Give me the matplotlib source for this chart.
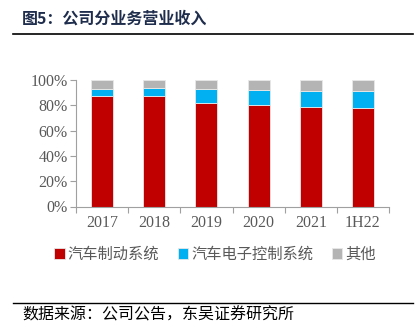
import matplotlib
matplotlib.use("Agg")
import matplotlib.pyplot as plt
import numpy as np

categories = ["2017", "2018", "2019", "2020", "2021", "1H22"]
brake = [0.87, 0.87, 0.82, 0.805, 0.785, 0.78]
electronic = [0.06, 0.065, 0.11, 0.115, 0.13, 0.135]
other = [0.07, 0.065, 0.07, 0.08, 0.085, 0.085]
series_names = ["汽车制动系统", "汽车电子控制系统", "其他"]
colors = ["#C00000", "#00B0F0", "#B4B4B4"]
yticks = [0, 0.2, 0.4, 0.6, 0.8, 1.0]
yticklabels = ["0%", "20%", "40%", "60%", "80%", "100%"]

cjk = ["Noto Sans CJK SC", "DejaVu Sans"]
serif = ["Liberation Serif", "DejaVu Serif"]

fig = plt.figure(figsize=(4.2, 3.32), dpi=100)
ax = fig.add_axes([76/420, 1-206.5/332, (389-76)/420, (206.5-80)/332])

x = np.arange(len(categories))
w = 0.42
b1 = np.array(brake)
b2 = b1 + np.array(electronic)
ax.bar(x, brake, w, color=colors[0], edgecolor="#E8E8E8", linewidth=0.6, label=series_names[0])
ax.bar(x, electronic, w, bottom=b1, color=colors[1], edgecolor="#E8E8E8", linewidth=0.6, label=series_names[1])
ax.bar(x, other, w, bottom=b2, color=colors[2], edgecolor="#E8E8E8", linewidth=0.6, label=series_names[2])

ax.set_xlim(-0.5, len(categories)-0.5)
ax.set_ylim(0, 1.0)
ax.set_yticks(yticks)
ax.set_yticklabels(yticklabels, fontfamily=serif, fontsize=11.5, color="#595959")
ax.set_xticks(x)
ax.set_xticklabels(categories, fontfamily=serif, fontsize=11.5, color="#595959")
ax.set_xticks(np.arange(len(categories)+1)-0.5, minor=True)
ax.tick_params(axis="x", which="major", length=0, pad=6)
ax.tick_params(axis="x", which="minor", length=4, color="#A0A0A0", width=0.8)
ax.tick_params(axis="y", length=4, color="#A0A0A0", width=0.8, pad=2)
for s in ["top", "right"]:
    ax.spines[s].set_visible(False)
for s in ["left", "bottom"]:
    ax.spines[s].set_color("#A0A0A0")
    ax.spines[s].set_linewidth(0.8)

leg = fig.legend(loc="center", bbox_to_anchor=(215/420, 1-254/332), ncol=3, frameon=False,
                 prop={"family": cjk, "size": 11}, handlelength=0.7, handleheight=0.7,
                 handletextpad=0.2, columnspacing=1.2)
for t in leg.get_texts():
    t.set_color("#595959")

fig.text(22/420, 1-19/332, "图5：公司分业务营业收入", fontfamily=cjk, fontsize=11.5,
         fontweight="bold", color="#1F2D4D", va="center", ha="left")
fig.add_artist(plt.Line2D([13/420, 413/420], [1-34/332, 1-34/332], color="black", linewidth=1.2))
fig.add_artist(plt.Line2D([13/420, 413/420], [1-303/332, 1-303/332], color="black", linewidth=1.0))
fig.text(22/420, 1-315/332, "数据来源：公司公告，东吴证券研究所", fontfamily=cjk, fontsize=11.5,
         color="black", va="center", ha="left")

fig.savefig("out.png", dpi=100)
